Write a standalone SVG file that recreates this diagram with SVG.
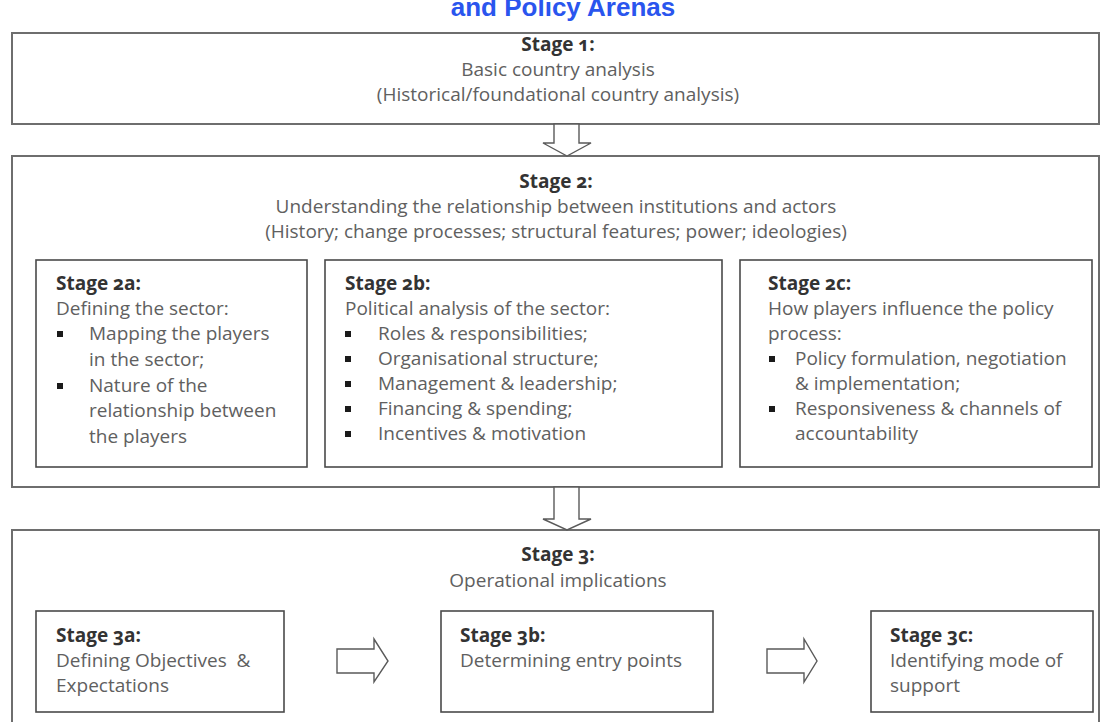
<svg xmlns="http://www.w3.org/2000/svg" width="1101" height="722" viewBox="0 0 1101 722">
<defs>
<style>
.outer{fill:#fff;stroke:#6e6e6e;stroke-width:2}
.inner{fill:#fff;stroke:#4a4a4a;stroke-width:1.6}
.arrow{fill:#fff;stroke:#5a5a5a;stroke-width:1.4;stroke-linejoin:miter}
text{font-family:"Open Sans","DejaVu Sans",sans-serif;font-size:19px;fill:#606060;font-variant-numeric:oldstyle-nums}
.h{font-weight:700;fill:#333}
.c{text-anchor:middle}
.title{font-family:"Liberation Sans",Arial,sans-serif;font-weight:700;font-size:26px;fill:#2a55ee;text-anchor:middle}
.b{fill:#1a1a1a}
</style>
</defs>
<rect width="1101" height="722" fill="#fff"/>
<text class="title" x="563" y="16">and Policy Arenas</text>

<g id="stage1">
<rect class="outer" x="12" y="33" width="1087" height="91"/>
<text class="h c" x="558" y="51">Stage 1:</text>
<text class="c" x="558" y="76">Basic country analysis</text>
<text class="c" x="558" y="101">(Historical/foundational country analysis)</text>
</g>

<g id="stage2">
<rect class="outer" x="12" y="156" width="1087" height="331"/>
<text class="h c" x="556" y="188">Stage 2:</text>
<text class="c" x="556" y="213">Understanding the relationship between institutions and actors</text>
<text class="c" x="556" y="238">(History; change processes; structural features; power; ideologies)</text>
</g>

<g id="stage2a">
<rect class="inner" x="36" y="260" width="271" height="207"/>
<text class="h" x="56" y="290">Stage 2a:</text>
<text x="56" y="315">Defining the sector:</text>
<rect class="b" x="57" y="331" width="6" height="6"/>
<text x="89" y="340">Mapping the players</text>
<text x="89" y="366">in the sector;</text>
<rect class="b" x="57" y="383" width="6" height="6"/>
<text x="89" y="392">Nature of the</text>
<text x="89" y="417">relationship between</text>
<text x="89" y="443">the players</text>
</g>

<g id="stage2b">
<rect class="inner" x="325" y="260" width="397" height="207"/>
<text class="h" x="345" y="290">Stage 2b:</text>
<text x="345" y="315">Political analysis of the sector:</text>
<rect class="b" x="345" y="331" width="6" height="6"/>
<text x="378" y="340">Roles &amp; responsibilities;</text>
<rect class="b" x="345" y="356" width="6" height="6"/>
<text x="378" y="365">Organisational structure;</text>
<rect class="b" x="345" y="381" width="6" height="6"/>
<text x="378" y="390">Management &amp; leadership;</text>
<rect class="b" x="345" y="406" width="6" height="6"/>
<text x="378" y="415">Financing &amp; spending;</text>
<rect class="b" x="345" y="431" width="6" height="6"/>
<text x="378" y="440">Incentives &amp; motivation</text>
</g>

<g id="stage2c">
<rect class="inner" x="740" y="260" width="352" height="207"/>
<text class="h" x="768" y="290">Stage 2c:</text>
<text x="768" y="315">How players influence the policy</text>
<text x="768" y="340">process:</text>
<rect class="b" x="769" y="356" width="6" height="6"/>
<text x="795" y="365">Policy formulation, negotiation</text>
<text x="795" y="390">&amp; implementation;</text>
<rect class="b" x="769" y="406" width="6" height="6"/>
<text x="795" y="415">Responsiveness &amp; channels of</text>
<text x="795" y="440">accountability</text>
</g>

<g id="stage3">
<rect class="outer" x="12" y="530" width="1087" height="215"/>
<text class="h c" x="558" y="561">Stage 3:</text>
<text class="c" x="558" y="587">Operational implications</text>
</g>

<g id="stage3a">
<rect class="inner" x="36" y="611" width="248" height="101"/>
<text class="h" x="56" y="642">Stage 3a:</text>
<text x="56" y="667" xml:space="preserve">Defining Objectives  &amp;</text>
<text x="56" y="692">Expectations</text>
</g>

<g id="stage3b">
<rect class="inner" x="441" y="611" width="272" height="101"/>
<text class="h" x="460" y="642">Stage 3b:</text>
<text x="460" y="667">Determining entry points</text>
</g>

<g id="stage3c">
<rect class="inner" x="871" y="611" width="222" height="101"/>
<text class="h" x="890" y="642">Stage 3c:</text>
<text x="890" y="667">Identifying mode of</text>
<text x="890" y="692">support</text>
</g>

<g id="connectors">
<polygon class="arrow" points="554,124 554,143 543,143 567,156 591,143 579,143 579,124"/>
<polygon class="arrow" points="554,487 554,519 543,519 567,530 591,519 579,519 579,487"/>
<polygon class="arrow" points="337,649 374,649 374,639 388,661 374,682 374,673 337,673"/>
<polygon class="arrow" points="767,649 804,649 804,639 817,661 804,682 804,673 767,673"/>
</g>
</svg>
